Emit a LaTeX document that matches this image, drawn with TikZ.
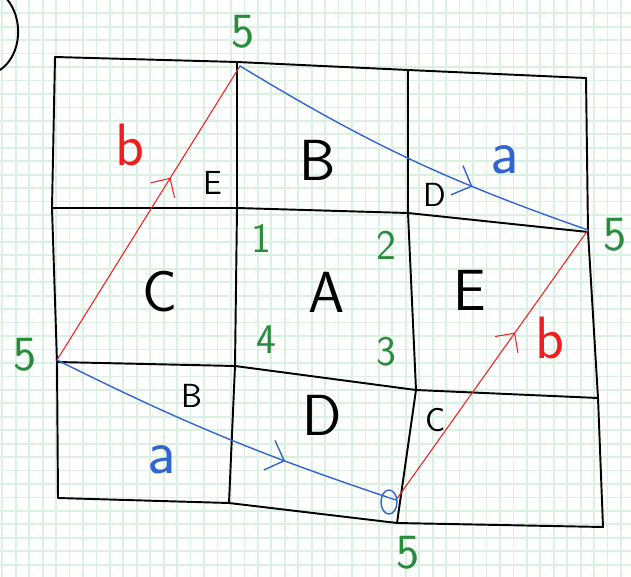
\documentclass[tikz,border=0pt]{standalone}
\usepackage{fontspec}
\usetikzlibrary{arrows.meta,decorations.markings}

\begin{document}
\begin{tikzpicture}[
    x=0.02cm,
    y=-0.02cm,
    line join=round,
    line cap=round,
    paper/.style={draw=gridgreen, line width=1pt},
    edge/.style={draw=black, line width=1.1pt},
    face/.style={font=\sffamily\fontsize{33}{33}\selectfont, inner sep=0pt},
    tag/.style={font=\sffamily\fontsize{19}{19}\selectfont, inner sep=0pt},
    five/.style={font=\sffamily\fontsize{28}{28}\selectfont, text=pengreen, inner sep=0pt},
    num/.style={font=\sffamily\fontsize{24}{24}\selectfont, text=pengreen, inner sep=0pt},
    laba/.style={font=\sffamily\fontsize{36}{36}\selectfont, text=penblue, inner sep=0pt},
    labb/.style={font=\sffamily\fontsize{34}{34}\selectfont, text=penred, inner sep=0pt},
    veca/.style={
        draw=penblue,
        line width=0.8pt,
        postaction={decorate},
        decoration={markings,
            mark=at position 0.68 with {\arrow{Straight Barb[length=9pt,width=18pt]}}}
    },
    vecb/.style={
        draw=penred,
        line width=0.6pt,
        postaction={decorate},
        decoration={markings,
            mark=at position 0.62 with {\arrow{Straight Barb[length=8pt,width=16pt]}}}
    }
]

% -------------------------------------------------
% Pen colours
% -------------------------------------------------
\definecolor{gridgreen}{RGB}{218,240,224}  % graph paper
\definecolor{pengreen}{RGB}{40,140,60}     % corner numbers
\definecolor{penred}{RGB}{240,30,30}       % vector b
\definecolor{penblue}{RGB}{50,100,210}     % vector a

\useasboundingbox (0,0) rectangle (631,577);

% -------------------------------------------------
% Graph paper
% -------------------------------------------------
\foreach \i in {0,...,46} {
    \draw[paper] ({2.3+13.45*\i},0) -- ++(0,577);
}
\foreach \j in {1,...,43} {
    \draw[paper] (0,{13.45*\j-0.2}) -- ++(631,0);
}

% -------------------------------------------------
% Corners of the 3x3 net
% -------------------------------------------------
\coordinate (c00) at (55,57);
\coordinate (c01) at (237,62);
\coordinate (c02) at (408,70);
\coordinate (c03) at (586,78);

\coordinate (c10) at (52,208);
\coordinate (c11) at (237,208);
\coordinate (c12) at (408,213);
\coordinate (c13) at (588,232);

\coordinate (c20) at (57,362);
\coordinate (c21) at (235,366);
\coordinate (c22) at (416,390);
\coordinate (c23) at (598,398);

\coordinate (c30) at (58,498);
\coordinate (c31) at (229,503);
\coordinate (c32) at (397,523);
\coordinate (c33) at (603,527);

% rows and columns
\foreach \r in {0,...,3} {
    \draw[edge] (c\r0) -- (c\r1) -- (c\r2) -- (c\r3);
}
\foreach \c in {0,...,3} {
    \draw[edge] (c0\c) -- (c1\c) -- (c2\c) -- (c3\c);
}

% stray arc at the top left
\draw[edge] (6,-2) .. controls (24,18) and (22,55) .. (0,70);

% -------------------------------------------------
% Faces
% -------------------------------------------------
\node[face] (faceB) at (318,160) {B};
\node[tag]  (tagE)  at (213,183) {E};
\node[tag]  (tagD)  at (435,195) {D};

\node[face] (faceC) at (160,292) {C};
\node[face] (faceA) at (327,292) {A};
\node[face] (faceE) at (470,290) {E};

\node[tag]  (tagB)  at (192,396) {B};
\node[face] (faceD) at (322,415) {D};
\node[tag]  (tagC)  at (436,420) {C};

% -------------------------------------------------
% Vectors a and b between the four points 5
% -------------------------------------------------
\coordinate (pT) at (240,66);
\coordinate (pR) at (588,230);
\coordinate (pL) at (57,360);
\coordinate (pB) at (396,500);

\draw[vecb] (pL) -- (pT);
\draw[vecb] (pB) -- (pR);
\draw[veca] (pT) to[bend right=6] (pR);
\draw[veca] (pL) to[bend right=4] (pB);
\draw[penblue, line width=0.8pt] (389,502) ellipse [x radius=8, y radius=12];

\node[labb] (bL) at (130,145) {b};
\node[labb] (bR) at (550,338) {b};
\node[laba] (aT) at (505,160) {a};
\node[laba] (aB) at (162,460) {a};

% -------------------------------------------------
% Corner numbers
% -------------------------------------------------
\node[five] (fiveT) at (243,32)  {5};
\node[five] (fiveR) at (615,235) {5};
\node[five] (fiveL) at (25,355)  {5};
\node[five] (fiveB) at (408,553) {5};

\node[num] (n1) at (261,238) {1};
\node[num] (n2) at (386,245) {2};
\node[num] (n3) at (386,352) {3};
\node[num] (n4) at (266,340) {4};

\end{tikzpicture}
\end{document}
